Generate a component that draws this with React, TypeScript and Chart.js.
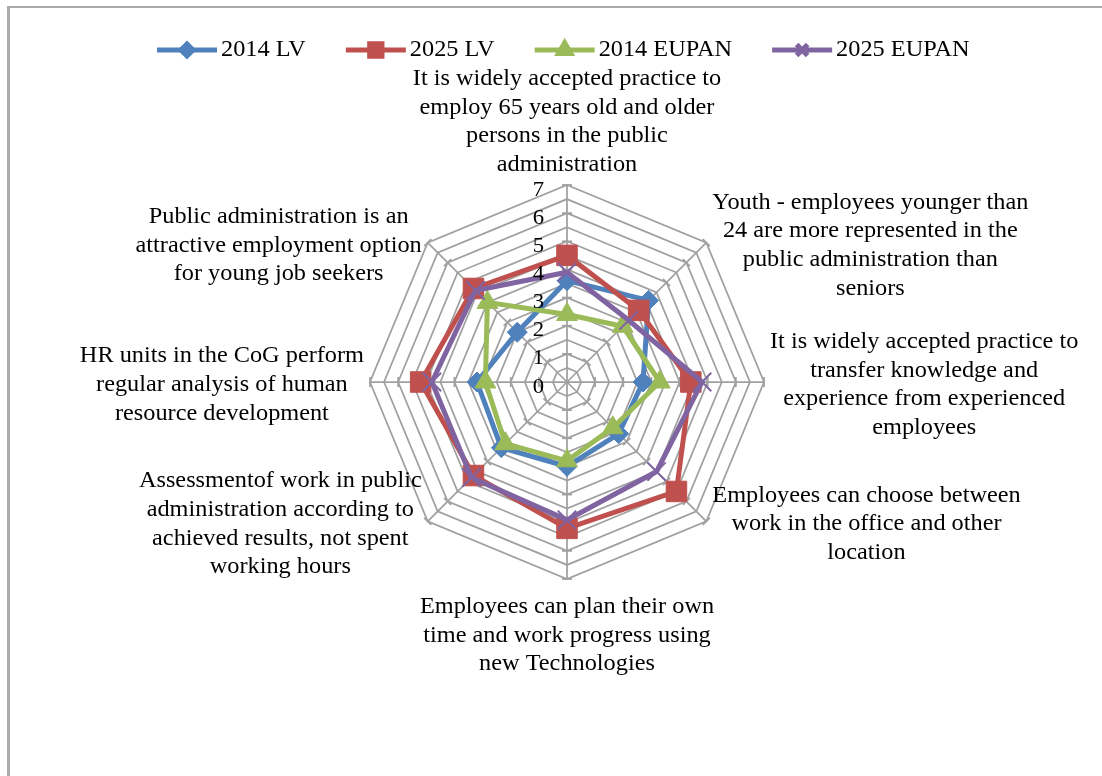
import { useEffect, useRef } from 'react';
import { Chart, registerables } from 'chart.js';
import { drawPoint } from 'chart.js/helpers';

Chart.register(...registerables);

// ---- data ----
const categories: string[][] = [
  ['It is widely accepted practice to', 'employ 65 years old and older', 'persons in the public', 'administration'],
  ['Youth - employees younger than', '24 are more represented in the', 'public administration than', 'seniors'],
  ['It is widely accepted practice to', 'transfer knowledge and', 'experience from experienced', 'employees'],
  ['Employees can choose between', 'work in the office and other', 'location'],
  ['Employees can plan their own', 'time and work progress using', 'new Technologies'],
  ['Assessmentof work in public', 'administration according to', 'achieved results, not spent', 'working hours'],
  ['HR units in the CoG perform', 'regular analysis of human', 'resource development'],
  ['Public administration is an', 'attractive employment option', 'for young job seekers'],
];
const seriesNames = ['2014 LV', '2025 LV', '2014 EUPAN', '2025 EUPAN'];
const lv2014 = [3.6, 4.1, 2.7, 2.6, 3.0, 3.3, 3.2, 2.5];
const lv2025 = [4.5, 3.6, 4.4, 5.5, 5.2, 4.7, 5.2, 4.7];
const eupan2014 = [2.4, 2.8, 3.3, 2.3, 2.8, 3.1, 2.9, 4.0];
const eupan2025 = [3.9, 3.1, 4.8, 4.5, 4.9, 4.8, 4.8, 4.6];
const tickValues = [0, 1, 2, 3, 4, 5, 6, 7];

// ---- styles ----
const COLORS = ['#4F81BD', '#C0504D', '#9BBB59', '#8064A2'];
const POINT_STYLES = ['rectRot', 'rect', 'triangle', 'crossRot'];
const POINT_RADII = [10, 14.5, 12, 13];
const GRID = '#a0a0a0';
const FONT_FAMILY = '"Liberation Serif", "Times New Roman", serif';
const LABEL_SIZE = 22.5;
const TICK_SIZE = 21;
const SX = 1.08;
const LINE_H = 28.6;

function drawText(ctx: CanvasRenderingContext2D, text: string, x: number, y: number, align: 'left' | 'center' | 'right') {
  const w = ctx.measureText(text).width * SX;
  let left = x;
  if (align === 'center') left = x - w / 2;
  else if (align === 'right') left = x - w;
  ctx.save();
  ctx.translate(left, y);
  ctx.scale(SX, 1);
  ctx.textAlign = 'left';
  ctx.fillText(text, 0, 0);
  ctx.restore();
}

const decor = {
  id: 'decor',
  beforeDatasetsDraw(chart: any) {
    const s = chart.scales.r;
    const ctx: CanvasRenderingContext2D = chart.ctx;
    const n = chart.data.labels.length;
    ctx.save();
    ctx.strokeStyle = GRID;
    ctx.lineWidth = 1.75;
    for (let i = 0; i < n; i++) {
      const a = s.getIndexAngle(i) - Math.PI / 2;
      const px = -Math.sin(a);
      const py = Math.cos(a);
      for (const v of tickValues) {
        if (v === 0) continue;
        const p = s.getPointPositionForValue(i, v);
        ctx.beginPath();
        ctx.moveTo(p.x - px * 5, p.y - py * 5);
        ctx.lineTo(p.x + px * 5, p.y + py * 5);
        ctx.stroke();
      }
    }
    ctx.restore();
  },
  afterDatasetsDraw(chart: any) {
    const s = chart.scales.r;
    const ctx: CanvasRenderingContext2D = chart.ctx;
    ctx.save();
    ctx.fillStyle = '#000';
    ctx.font = `${TICK_SIZE}px ${FONT_FAMILY}`;
    ctx.textBaseline = 'middle';
    for (const v of tickValues) {
      const y = s.yCenter - s.getDistanceFromCenterForValue(v);
      drawText(ctx, String(v), s.xCenter - 23, y + 5, 'right');
    }
    ctx.restore();
  },
  afterDraw(chart: any) {
    const s = chart.scales.r;
    const ctx: CanvasRenderingContext2D = chart.ctx;
    const labels: string[][] = chart.data.labels;
    ctx.save();
    ctx.fillStyle = '#000';
    ctx.font = `${LABEL_SIZE}px ${FONT_FAMILY}`;
    ctx.textBaseline = 'middle';
    labels.forEach((lines, i) => {
      const v = s.getPointPosition(i, s.drawingArea);
      const deg = (i * 360) / labels.length;
      const maxW = Math.max(...lines.map((l) => ctx.measureText(l).width * SX));
      let cx = v.x;
      let firstY: number;
      if (deg === 0) {
        firstY = v.y - 20 - (lines.length - 1) * LINE_H;
      } else if (deg === 180) {
        firstY = v.y + 28;
      } else {
        firstY = v.y + 3 - ((lines.length - 1) * LINE_H) / 2;
        if (deg < 180) cx = v.x + 6 + maxW / 2;
        else cx = v.x - 6 - maxW / 2;
      }
      lines.forEach((line, k) => drawText(ctx, line, cx, firstY + k * LINE_H, 'center'));
    });

    // legend
    ctx.font = `${LABEL_SIZE}px ${FONT_FAMILY}`;
    const ly = 50;
    const lineLen = 60;
    let x = 157;
    chart.data.datasets.forEach((ds: any) => {
      ctx.strokeStyle = ds.borderColor;
      ctx.lineWidth = 5;
      ctx.beginPath();
      ctx.moveTo(x, ly);
      ctx.lineTo(x + lineLen, ly);
      ctx.stroke();
      ctx.fillStyle = ds.borderColor;
      drawPoint(ctx, { pointStyle: ds.pointStyle, radius: ds.pointRadius * 0.6, rotation: 0, borderWidth: ds.pointBorderWidth }, x + lineLen / 2, ly);
      ctx.fillStyle = '#000';
      drawText(ctx, ds.label, x + lineLen + 4, ly, 'left');
      x += lineLen + 4 + ctx.measureText(ds.label).width * SX + 40;
    });
    ctx.restore();
  },
};

export default function App() {
  const ref = useRef<HTMLCanvasElement>(null);
  useEffect(() => {
    if (!ref.current) return;
    const seriesValues = [lv2014, lv2025, eupan2014, eupan2025];
    const chart = new Chart(ref.current, {
      type: 'radar',
      data: {
        labels: categories,
        datasets: seriesNames.map((name, i) => ({
          label: name,
          data: seriesValues[i],
          borderColor: COLORS[i],
          backgroundColor: COLORS[i],
          pointBackgroundColor: COLORS[i],
          pointBorderColor: COLORS[i],
          pointStyle: POINT_STYLES[i],
          pointRadius: POINT_RADII[i],
          pointBorderWidth: i === 3 ? 2 : 1,
          borderWidth: 5,
          fill: false,
          order: 4 - i,
        })),
      },
      options: {
        responsive: false,
        animation: false,
        devicePixelRatio: 1,
        layout: { padding: { top: 185, bottom: 197, left: 170, right: 138 } },
        plugins: { legend: { display: false }, tooltip: { enabled: false } },
        elements: { line: { tension: 0 } },
        scales: {
          r: {
            min: 0,
            max: 7,
            ticks: { stepSize: 0.5, display: false },
            grid: { color: GRID, lineWidth: 1.75 },
            angleLines: { color: GRID, lineWidth: 1.75 },
            pointLabels: { display: false },
          },
        },
      },
      plugins: [decor],
    });
    return () => chart.destroy();
  }, []);

  return (
    <>
      <div
        style={{
          position: 'fixed',
          left: 7,
          top: 6,
          width: 1200,
          height: 900,
          borderTop: '2px solid #ababab',
          borderLeft: '3px solid #ababab',
          boxSizing: 'border-box',
        }}
      />
      <canvas
        ref={ref}
        width={1102}
        height={776}
        style={{ position: 'fixed', left: 0, top: 0, width: 1102, height: 776, display: 'block' }}
      />
    </>
  );
}
